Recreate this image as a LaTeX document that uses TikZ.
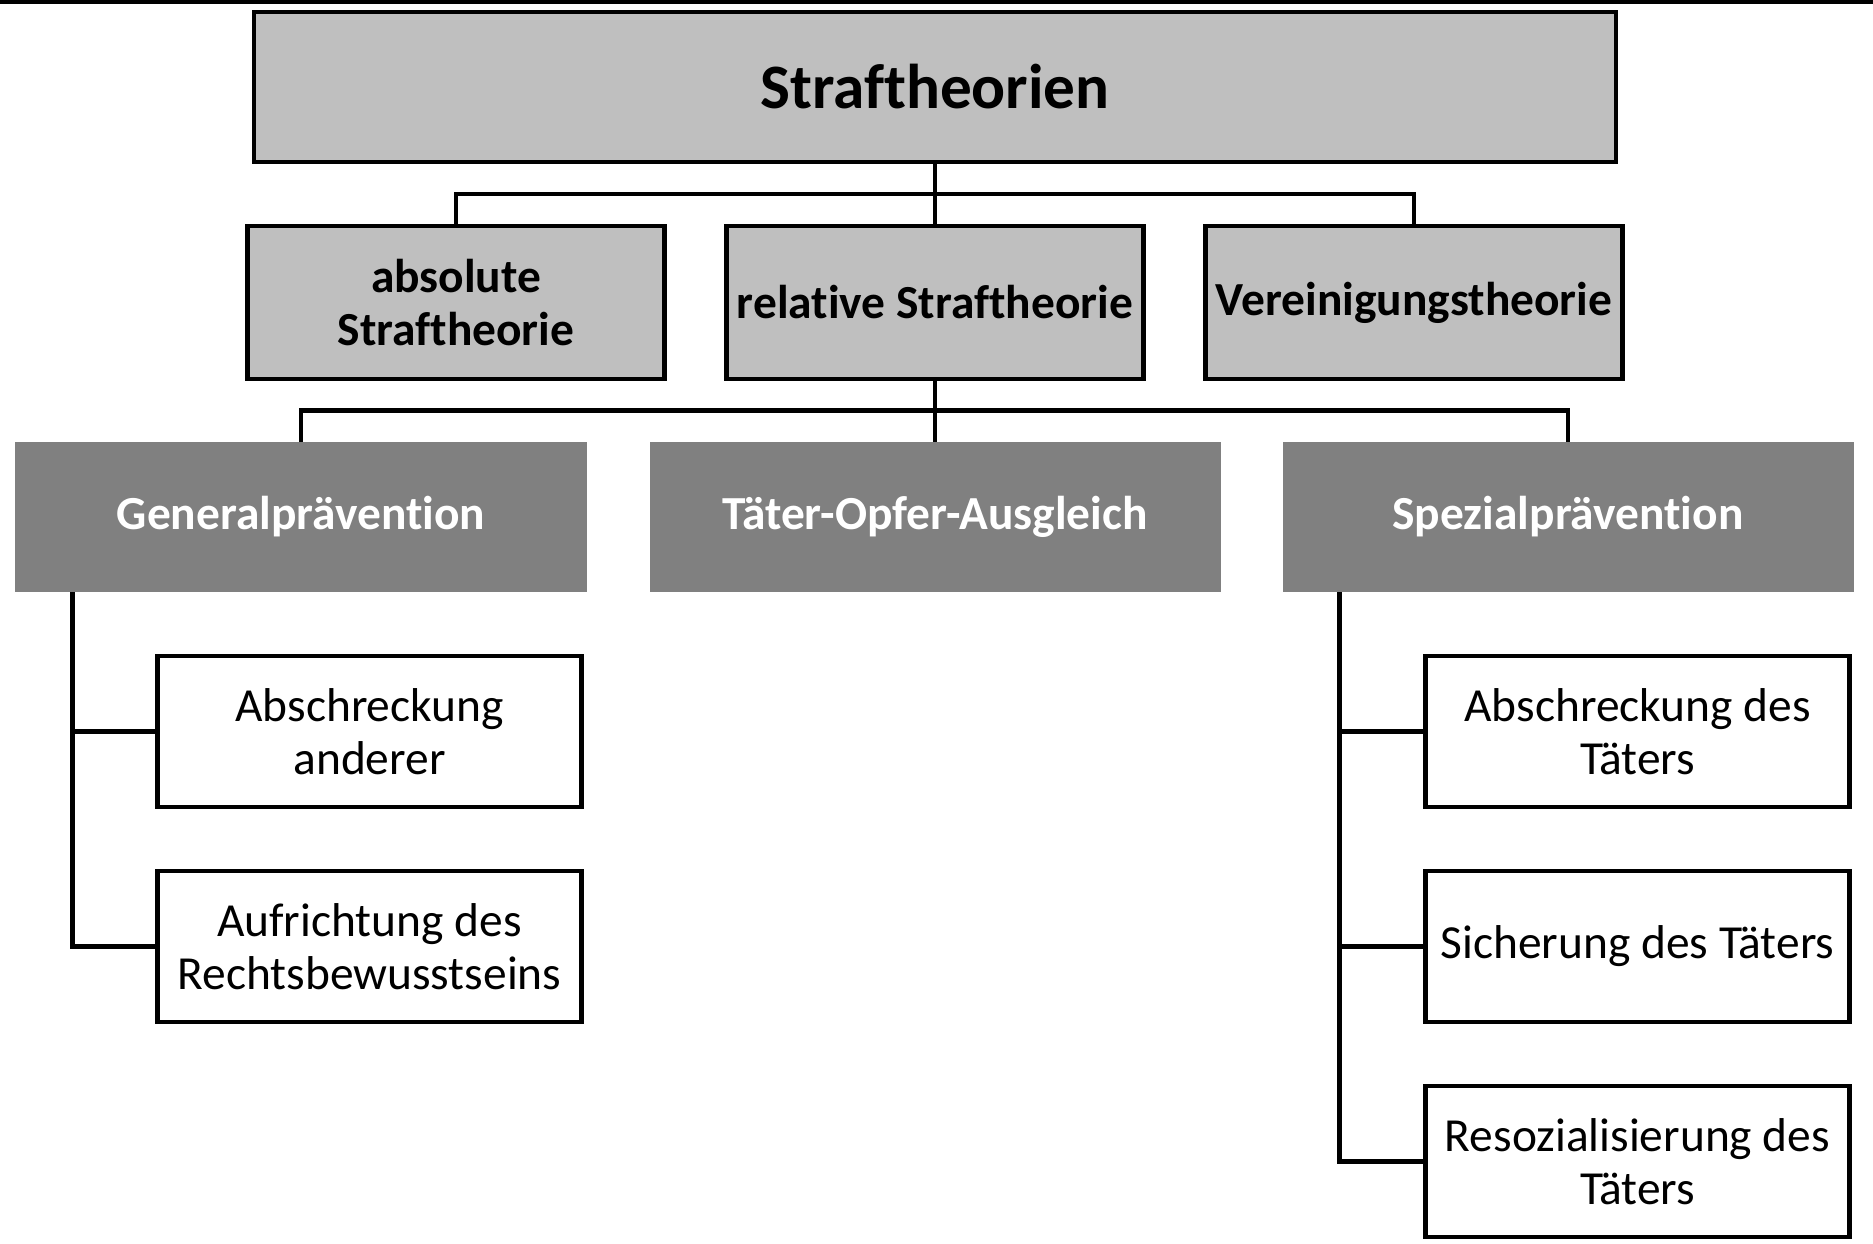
\documentclass[tikz,border=0pt]{standalone}
\usepackage{fontspec}
\setmainfont{Carlito}[Ligatures=NoCommon]
\usetikzlibrary{positioning, calc}
\definecolor{boxgrey}{HTML}{BFBFBF}
\definecolor{prevgrey}{HTML}{808080}
\tikzset{
	conn/.style={draw, line width=1.4pt},
	leafbox/.style={rectangle, draw, fill=white, line width=1.4pt, minimum width=4.24cm, minimum height=1.51cm, inner sep=0pt, outer sep=0pt, align=center, font=\fontsize{13.5}{15}\selectfont}
}

\begin{document}
\begin{tikzpicture}[
	node distance=0.63cm and 0.62cm, % Adjust distances as needed
	topbox/.style={draw, rectangle, fill=boxgrey, line width=1.4pt, minimum width=13.62cm, minimum height=1.5cm, inner sep=0pt, outer sep=0pt, font=\fontsize{18}{21}\selectfont\bfseries},
	theory/.style={draw, rectangle, fill=boxgrey, line width=1.4pt, minimum width=4.17cm, minimum height=1.53cm, inner sep=0pt, outer sep=0pt, align=center, font=\fontsize{13.5}{15}\selectfont\bfseries},
	prev/.style={rectangle, fill=prevgrey, text=white, minimum width=5.71cm, minimum height=1.5cm, inner sep=0pt, outer sep=0pt, align=center, font=\fontsize{13.5}{15}\selectfont\bfseries}
	]
	\useasboundingbox (0,0) rectangle (18.73,-12.43);
	\draw[line width=0.08cm] (0,0) -- (18.73,0);
	
	% --- Top: the heading ---
	\node[topbox] (straf) at (9.35,-0.87) {Straftheorien};
	
	% --- Second Row: the three theories ---
	\node[theory, below=0.64cm of straf] (relativ) {relative Straftheorie};
	\node[theory, left=of relativ] (absolut) {absolute\\Straftheorie};
	\node[theory, right=of relativ] (vereinigung) {Vereinigungstheorie};
	
	\coordinate (j_top) at ($(straf.south)!0.5!(relativ.north)$);
	\draw[conn] (straf.south) -- (relativ.north);
	\draw[conn] (absolut.north) |- (j_top) -| (vereinigung.north);
	
	% --- Third Row: branches of the relative theory ---
	\node[prev, below=of relativ] (ausgleich) {Täter-Opfer-Ausgleich};
	\node[prev, left=0.63cm of ausgleich] (general) {Generalprävention};
	\node[prev, right=of ausgleich] (spezial) {Spezialprävention};
	
	\coordinate (j_mid) at ($(relativ.south)!0.5!(ausgleich.north)$);
	\draw[conn] (relativ.south) -- (ausgleich.north);
	\draw[conn] (general.north) |- (j_mid) -| (spezial.north);
	
	% --- Left column: under Generalpraevention ---
	\node[leafbox, below left=0.64cm and 0.05cm of general.south east] (abschr_anderer) {Abschreckung\\anderer};
	\node[leafbox, below=0.64cm of abschr_anderer] (aufrichtung) {Aufrichtung des\\Rechtsbewusstseins};
	
	\coordinate (g_trunk) at ([xshift=0.57cm]general.south west);
	\draw[conn] (g_trunk) |- (aufrichtung.west);
	\draw[conn] (abschr_anderer.west) -- (abschr_anderer.west -| g_trunk);
	
	% --- Right column: under Spezialpraevention ---
	\node[leafbox, below left=0.64cm and 0.04cm of spezial.south east] (abschr_taeter) {Abschreckung des\\Täters};
	\node[leafbox, below=0.64cm of abschr_taeter] (sicherung) {Sicherung des Täters};
	\node[leafbox, below=0.64cm of sicherung] (resozial) {Resozialisierung des\\Täters};
	
	\coordinate (s_trunk) at ([xshift=0.57cm]spezial.south west);
	\draw[conn] (s_trunk) |- (resozial.west);
	\draw[conn] (abschr_taeter.west) -- (abschr_taeter.west -| s_trunk);
	\draw[conn] (sicherung.west) -- (sicherung.west -| s_trunk);
	
\end{tikzpicture}
\end{document}
